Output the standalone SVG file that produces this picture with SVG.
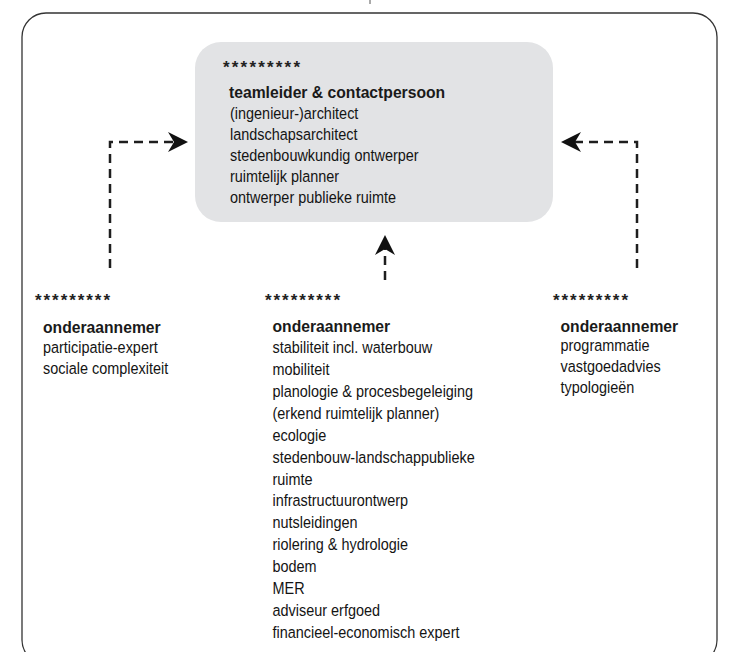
<svg xmlns="http://www.w3.org/2000/svg" width="732" height="652" viewBox="0 0 732 652">
<defs>
<style>
.stars{font-family:"Liberation Sans",Arial,sans-serif;font-weight:bold;font-size:17px;fill:#222}
.hd{font-family:"Liberation Sans",Arial,sans-serif;font-weight:bold;font-size:15.7px;fill:#1a1a1a}
.tx{font-family:"Liberation Sans",Arial,sans-serif;font-size:16.5px;fill:#141414}
.dash{fill:none;stroke:#1e1e1e;stroke-width:2.5;stroke-dasharray:9 6}
</style>
<marker id="ah" viewBox="0 0 20 20" refX="14" refY="10" markerWidth="20" markerHeight="20" markerUnits="userSpaceOnUse" orient="auto">
<path d="M0,0 L20,10 L0,20 L6,10 Z" fill="#111"/>
</marker>
</defs>
<rect width="732" height="652" fill="#ffffff"/>
<g id="frame">
<rect x="22" y="13" width="695" height="651" rx="24" ry="24" fill="none" stroke="#333" stroke-width="1.3"/>
<line x1="370" y1="0" x2="370" y2="4" stroke="#555" stroke-width="1"/>
</g>
<g id="connectors">
<path class="dash" d="M110,268 V142 H182" marker-end="url(#ah)"/>
<path class="dash" d="M637,268 V142 H567" marker-end="url(#ah)"/>
<path class="dash" d="M385,280 V241" stroke-dasharray="10 6" marker-end="url(#ah)"/>
</g>
<g id="node-lead">
<rect x="195" y="42" width="358" height="180" rx="26" ry="26" fill="#e2e3e5"/>
<text class="stars" x="223" y="73" textLength="77" lengthAdjust="spacing">*********</text>
<text class="hd" x="229" y="97.5">teamleider &amp; contactpersoon</text>
<g transform="translate(230,0) scale(0.875,1)">
<text class="tx" x="0" y="118.7">(ingenieur-)architect</text>
<text class="tx" x="0" y="139.9">landschapsarchitect</text>
<text class="tx" x="0" y="161.1">stedenbouwkundig ontwerper</text>
<text class="tx" x="0" y="182.3">ruimtelijk planner</text>
<text class="tx" x="0" y="203.5">ontwerper publieke ruimte</text>
</g>
</g>
<g id="node-left">
<text class="stars" x="35" y="305.5" textLength="75" lengthAdjust="spacing">*********</text>
<text class="hd" x="43" y="332.5">onderaannemer</text>
<g transform="translate(43,0) scale(0.875,1)">
<text class="tx" x="0" y="353.5">participatie-expert</text>
<text class="tx" x="0" y="374.5">sociale complexiteit</text>
</g>
</g>
<g id="node-mid">
<text class="stars" x="265" y="305.5" textLength="75" lengthAdjust="spacing">*********</text>
<text class="hd" x="272.5" y="331.5">onderaannemer</text>
<g transform="translate(272.5,0) scale(0.875,1)">
<text class="tx" x="0" y="353.5">stabiliteit incl. waterbouw</text>
<text class="tx" x="0" y="375.35">mobiliteit</text>
<text class="tx" x="0" y="397.2">planologie &amp; procesbegeleiging</text>
<text class="tx" x="0" y="419.05">(erkend ruimtelijk planner)</text>
<text class="tx" x="0" y="440.9">ecologie</text>
<text class="tx" x="0" y="462.75">stedenbouw-landschappublieke</text>
<text class="tx" x="0" y="484.6">ruimte</text>
<text class="tx" x="0" y="506.45">infrastructuurontwerp</text>
<text class="tx" x="0" y="528.3">nutsleidingen</text>
<text class="tx" x="0" y="550.15">riolering &amp; hydrologie</text>
<text class="tx" x="0" y="572">bodem</text>
<text class="tx" x="0" y="593.85">MER</text>
<text class="tx" x="0" y="615.7">adviseur erfgoed</text>
<text class="tx" x="0" y="637.55">financieel-economisch expert</text>
</g>
</g>
<g id="node-right">
<text class="stars" x="553" y="305.5" textLength="75" lengthAdjust="spacing">*********</text>
<text class="hd" x="560.5" y="331.5">onderaannemer</text>
<g transform="translate(560.5,0) scale(0.875,1)">
<text class="tx" x="0" y="351.5">programmatie</text>
<text class="tx" x="0" y="372.5">vastgoedadvies</text>
<text class="tx" x="0" y="393.5">typologieën</text>
</g>
</g>
</svg>
